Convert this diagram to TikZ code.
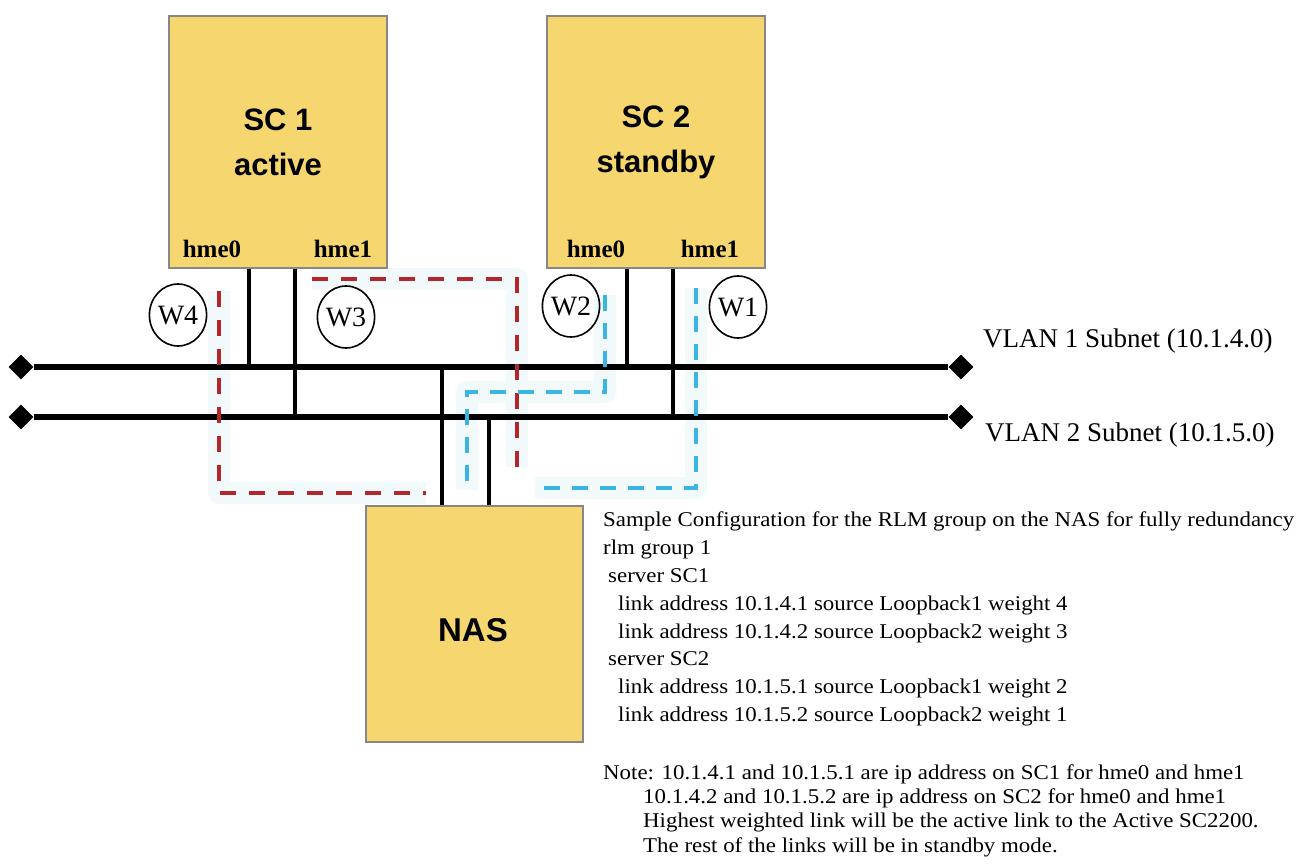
\documentclass[tikz,border=0pt]{standalone}
\usepackage{fontspec}
\setmainfont{Liberation Serif}
\setsansfont{Liberation Sans}
\newfontfamily\cfgfont[FakeStretch=1.09]{Liberation Serif}
\usetikzlibrary{calc,positioning,shapes.geometric}
\definecolor{boxfill}{HTML}{F6D66F}
\definecolor{boxline}{HTML}{878787}
\definecolor{pathred}{HTML}{B5262C}
\definecolor{pathblue}{HTML}{3AB4E0}
\definecolor{halo}{HTML}{F2F9FA}
\pgfdeclarelayer{background}
\pgfsetlayers{background,main}

\begin{document}
\begin{tikzpicture}[x=1pt,y=-1pt,
  server/.style={draw=boxline,line width=1.5pt,fill=boxfill,minimum width=218pt,
                 minimum height=252pt,inner sep=0pt,align=center,
                 font=\sffamily\bfseries\fontsize{31}{45}\selectfont},
  port/.style={font=\bfseries\fontsize{25}{28}\selectfont,inner sep=0pt},
  weight/.style={ellipse,draw=black,line width=1.6pt,minimum width=57pt,
                 minimum height=62pt,inner sep=0pt,font=\fontsize{28}{30}\selectfont},
  endpt/.style={diamond,fill=black,minimum size=25pt,inner sep=0pt},
  bus/.style={line width=6pt},
  drop/.style={line width=4pt},
  redpath/.style={draw=pathred,line width=4.5pt,dash pattern=on 16pt off 13pt},
  bluepath/.style={draw=pathblue,line width=4pt,dash pattern=on 16pt off 12pt},
  glow/.style={draw=halo,line width=22pt,line join=round},
  vlan/.style={anchor=base west,inner sep=0pt,font=\fontsize{27}{29}\selectfont},
  note/.style={anchor=base west,inner sep=0pt,font=\cfgfont\fontsize{21}{24}\selectfont}]
\useasboundingbox (0,0) rectangle (1304,866);

% Servers and NAS
\node[server] (sca) at (278,142) {SC 1\\active};
\node[server] (scb) at (656,142) {SC 2\\standby};
\node[server,minimum width=217pt,minimum height=236pt] (nas) at (474.5,624) {};
\node[font=\sffamily\bfseries\fontsize{33}{36}\selectfont,inner sep=0pt] (nastxt) at (473,630) {NAS};
\node[port] (sca0) at (212,249) {hme0};
\node[port] (sca1) at (343,249) {hme1};
\node[port] (scb0) at (596,249) {hme0};
\node[port] (scb1) at (710,249) {hme1};

% VLAN buses with diamond ends
\node[endpt] (bus1l) at (21,367) {};
\node[endpt] (bus1r) at (961,367) {};
\node[endpt] (bus2l) at (21,417) {};
\node[endpt] (bus2r) at (961,417) {};
\draw[bus] (bus1l) -- (bus1r);
\draw[bus] (bus2l) -- (bus2r);
\node[vlan] (vlan1) at (983,348) {VLAN 1 Subnet (10.1.4.0)};
\node[vlan] (vlan2) at (985,442) {VLAN 2 Subnet (10.1.5.0)};

% hme taps down to the buses
\foreach \srv/\dx/\bus in {sca/81/1,sca/127/2,scb/81/1,scb/127/2}{
  \coordinate (tap) at ($(\srv.south west)+(\dx,0)$);
  \draw[drop] (tap) -- (tap |- bus\bus l);
}
\foreach \dx/\bus in {77/1,124/2}{
  \coordinate (tap) at ($(nas.north west)+(\dx,0)$);
  \draw[drop] (tap |- bus\bus l) -- (tap);
}

% Weighted links
\coordinate (w4a) at (219,291); \coordinate (w4b) at (219,493); \coordinate (w4c) at (426,493);
\coordinate (w3a) at (312,279); \coordinate (w3b) at (517,279); \coordinate (w3c) at (517,467);
\coordinate (w2a) at (605,295); \coordinate (w2b) at (605,392);
\coordinate (w2c) at (467,392); \coordinate (w2d) at (467,490);
\coordinate (w1a) at (696,288); \coordinate (w1b) at (696,488); \coordinate (w1c) at (535,488);
\begin{pgfonlayer}{background}
  \draw[glow] (w4a) -- (w4b) -- (w4c);
  \draw[glow] (w3a) -- (w3b) -- (w3c);
  \draw[glow] (w2a) -- (w2b) -- (w2c) -- (w2d);
  \draw[glow] (w1a) -- (w1b) -- (w1c);
\end{pgfonlayer}
\draw[redpath] (w4a) -- (w4b) -- (w4c);
\draw[redpath] (w3a) -- (w3b) -- (w3c);
\draw[bluepath] (w2a) -- (w2b) -- (w2c) -- (w2d);
\draw[bluepath] (w1a) -- (w1b) -- (w1c);
\node[weight] (wt4) at (178,315) {W4};
\node[weight] (wt3) at (346,317) {W3};
\node[weight] (wt2) at (571,306) {W2};
\node[weight] (wt1) at (738,307) {W1};

% Sample configuration
\foreach \y/\x/\txt in {
  526/603/Sample Configuration for the RLM group on the NAS for fully redundancy,
  554/603/rlm group 1,
  582/608/server SC1,
  610/618/link address 10.1.4.1 source Loopback1 weight 4,
  638/618/link address 10.1.4.2 source Loopback2 weight 3,
  665/608/server SC2,
  693/618/link address 10.1.5.1 source Loopback1 weight 2,
  721/618/link address 10.1.5.2 source Loopback2 weight 1,
  779/603/Note: 10.1.4.1 and 10.1.5.1 are ip address on SC1 for hme0 and hme1,
  803/643/10.1.4.2 and 10.1.5.2 are ip address on SC2 for hme0 and hme1,
  827/643/Highest weighted link will be the active link to the Active SC2200.,
  852/643/The rest of the links will be in standby mode.}{
  \node[note] at (\x,\y) {\txt};
}
\end{tikzpicture}
\end{document}
